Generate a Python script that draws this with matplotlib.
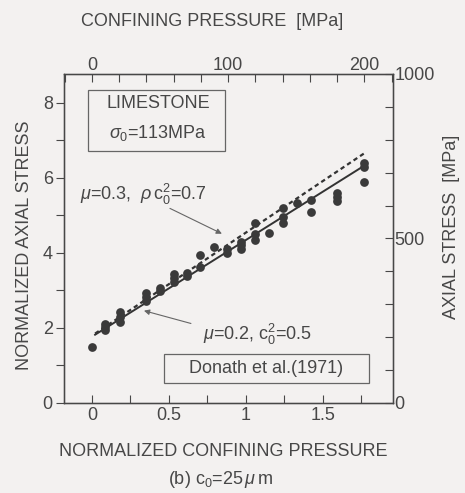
#!/usr/bin/python

"""
Normalized axial stress vs. normalized confining pressure (limestone)
"""
import numpy as np
import matplotlib
matplotlib.use('Agg')
import matplotlib.pyplot as plt
from matplotlib.ticker import MultipleLocator

SIGMA0 = 113.0  # MPa

# measured points (Donath et al. 1971), normalized by sigma0
data_p = [0.0,
          0.085, 0.085, 0.085,
          0.18, 0.18, 0.18,
          0.35, 0.35, 0.35,
          0.44, 0.44,
          0.53, 0.53, 0.53,
          0.62, 0.62,
          0.70, 0.70,
          0.79,
          0.88, 0.88,
          0.97, 0.97, 0.97,
          1.06, 1.06, 1.06,
          1.15,
          1.24, 1.24, 1.24,
          1.33,
          1.42, 1.42,
          1.59, 1.59, 1.59,
          1.77, 1.77, 1.77]
data_s = [1.50,
          1.95, 2.02, 2.10,
          2.15, 2.28, 2.42,
          2.72, 2.82, 2.93,
          2.98, 3.07,
          3.22, 3.33, 3.45,
          3.38, 3.47,
          3.62, 3.95,
          4.17,
          4.00, 4.10,
          4.10, 4.20, 4.30,
          4.35, 4.50, 4.80,
          4.53,
          4.80, 4.95, 5.20,
          5.33,
          5.10, 5.40,
          5.38, 5.50, 5.60,
          5.90, 6.30, 6.40]

# model curves
solid_p = [0.02, 1.77]
solid_s = [1.82, 6.33]   # mu=0.2, c0^2=0.5
dash_p = [0.02, 1.77]
dash_s = [1.85, 6.66]    # mu=0.3, rho c0^2=0.7

INK = '#474747'
BG = '#f3f1f0'
FS = 13


def main():
    plt.rcParams['font.family'] = ['Liberation Sans', 'DejaVu Sans']
    plt.rcParams['mathtext.fontset'] = 'custom'
    plt.rcParams['mathtext.rm'] = 'Liberation Sans'
    plt.rcParams['mathtext.it'] = 'Liberation Sans:italic'
    plt.rcParams['text.color'] = INK
    plt.rcParams['axes.edgecolor'] = INK
    plt.rcParams['xtick.color'] = INK
    plt.rcParams['ytick.color'] = INK

    fig = plt.figure(figsize=(4.65, 4.93), dpi=100, facecolor=BG)
    ax = fig.add_axes([0.1376, 0.1826, 0.7075, 0.6673], facecolor=BG)

    ax.plot(solid_p, solid_s, color='#333333', lw=1.4, zorder=2)
    ax.plot(dash_p, dash_s, color='#333333', lw=1.6, ls=(0, (2, 1.5)), zorder=2)
    ax.plot(data_p, data_s, 'o', color='#3a3a3a', ms=6.3, mec='none', zorder=3)

    ax.set_xlim(-0.182, 1.955)
    ax.set_ylim(0, 8.77)
    ax.set_xticks([0, 0.5, 1, 1.5])
    ax.set_xticklabels(['0', '0.5', '1', '1.5'])
    ax.xaxis.set_minor_locator(MultipleLocator(0.25))
    ax.yaxis.set_major_locator(MultipleLocator(2))
    ax.yaxis.set_minor_locator(MultipleLocator(1))
    ax.tick_params(axis='x', which='both', direction='in', length=6, width=0.8,
                   labelsize=FS, pad=3)
    ax.tick_params(axis='y', which='both', direction='out', length=6, width=0.8,
                   labelsize=FS, pad=2)
    for sp in ax.spines.values():
        sp.set_linewidth(1.0)

    # top axis: confining pressure in MPa
    top = ax.twiny()
    top.set_xlim(ax.get_xlim()[0] * SIGMA0, ax.get_xlim()[1] * SIGMA0)
    top.set_xticks([0, 100, 200])
    top.xaxis.set_minor_locator(MultipleLocator(20))
    top.tick_params(axis='x', which='both', direction='in', length=6, width=0.8,
                    labelsize=FS, pad=0)

    # right axis: axial stress in MPa
    right = ax.twinx()
    right.set_ylim(0, 1000)
    right.set_yticks([0, 500, 1000])
    right.yaxis.set_minor_locator(MultipleLocator(100))
    right.tick_params(axis='y', which='both', direction='in', length=6, width=0.8,
                      labelsize=FS, pad=1)

    ax.text(0.43, 7.98, 'LIMESTONE', ha='center', va='center', fontsize=FS)
    ax.text(0.43, 7.2, r'$\sigma_0$=113MPa', ha='center', va='center',
            fontsize=FS)
    ax.add_patch(plt.Rectangle((-0.025, 6.72), 0.89, 1.63, fill=False,
                               ec='#666666', lw=0.9))

    ax.text(-0.075, 5.55, r'$\mu$=0.3,  $\rho\,$c$_0^2$=0.7', ha='left',
            va='center', fontsize=FS)
    ax.annotate('', xy=(0.86, 4.48), xytext=(0.49, 5.22),
                arrowprops=dict(arrowstyle='-|>', color='#666666', lw=0.8,
                                mutation_scale=8))

    ax.text(0.72, 1.82, r'$\mu$=0.2, c$_0^2$=0.5', ha='left', va='center',
            fontsize=FS)
    ax.annotate('', xy=(0.32, 2.48), xytext=(0.66, 2.1),
                arrowprops=dict(arrowstyle='-|>', color='#666666', lw=0.8,
                                mutation_scale=8))

    ax.text(1.13, 0.93, 'Donath et al.(1971)', ha='center', va='center',
            fontsize=FS)
    ax.add_patch(plt.Rectangle((0.47, 0.53), 1.33, 0.78, fill=False,
                               ec='#666666', lw=0.9))

    fig.text(212 / 465, 1 - 22 / 493, 'CONFINING PRESSURE  [MPa]',
             ha='center', va='center', fontsize=FS)
    fig.text(25 / 465, 1 - 245 / 493, 'NORMALIZED AXIAL STRESS',
             ha='center', va='center', rotation=90, fontsize=FS)
    fig.text(451 / 465, 1 - 227 / 493, 'AXIAL STRESS  [MPa]',
             ha='center', va='center', rotation=90, fontsize=FS)
    fig.text(223 / 465, 1 - 452 / 493, 'NORMALIZED CONFINING PRESSURE',
             ha='center', va='center', fontsize=FS)
    fig.text(220 / 465, 1 - 480 / 493, r'(b) c$_0$=25$\,\mu\,$m',
             ha='center', va='center', fontsize=FS)

    fig.savefig('out.png', dpi=100, facecolor=BG)


if __name__ == '__main__':
    main()
